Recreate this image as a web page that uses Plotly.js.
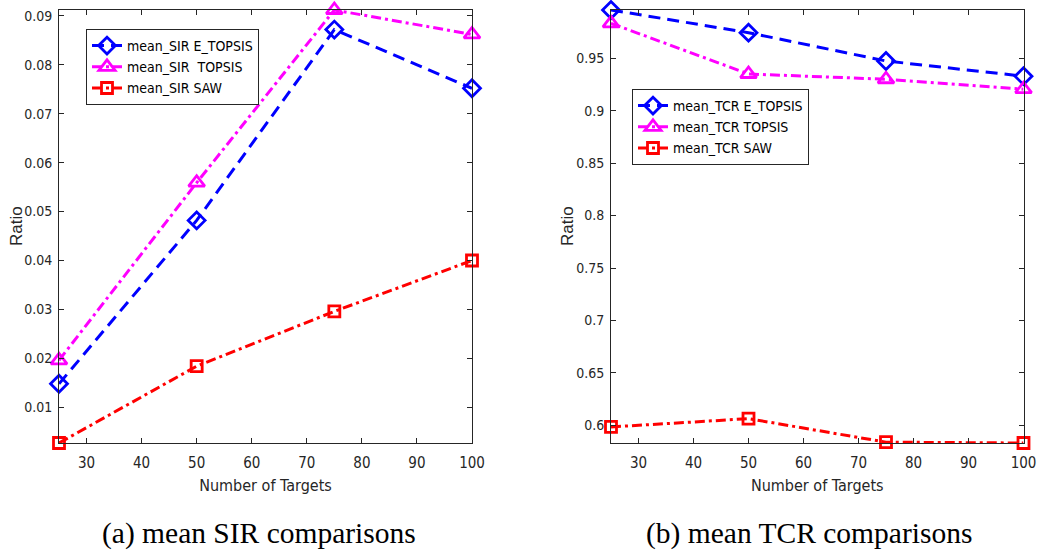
<!DOCTYPE html>
<html>
<head>
<meta charset="utf-8">
<script src="https://cdn.plot.ly/plotly-3.0.1.min.js"></script>
<style>html,body{margin:0;padding:0;background:#fff;}#chart{width:1039px;height:551px;}</style>
</head>
<body>
<div id="chart"></div>
<script>
// ---- data ----
const targets = [25, 50, 75, 100];

const sirETopsis = [0.0148, 0.0482, 0.0872, 0.0752];
const sirTopsis  = [0.0196, 0.0559, 0.0912, 0.0862];
const sirSaw     = [0.0027, 0.0184, 0.0296, 0.0400];

const tcrETopsis = [0.996, 0.9744, 0.9474, 0.9329];
const tcrTopsis  = [0.9833, 0.935, 0.930, 0.9205];
const tcrSaw     = [0.5985, 0.6064, 0.584, 0.5832];

const sirNames = ['mean_SIR E_TOPSIS', 'mean_SIR  TOPSIS', 'mean_SIR SAW'];
const tcrNames = ['mean_TCR E_TOPSIS', 'mean_TCR TOPSIS', 'mean_TCR SAW'];

const xTicks = [30, 40, 50, 60, 70, 80, 90, 100];
const sirTicks = [0.01, 0.02, 0.03, 0.04, 0.05, 0.06, 0.07, 0.08, 0.09];
const sirTickText = ['0.01','0.02','0.03','0.04','0.05','0.06','0.07','0.08','0.09'];
const tcrTicks = [0.6, 0.65, 0.7, 0.75, 0.8, 0.85, 0.9, 0.95];
const tcrTickText = ['0.6','0.65','0.7','0.75','0.8','0.85','0.9','0.95'];

const captions = ['(a) mean SIR comparisons', '(b) mean TCR comparisons'];
const xTitle = 'Number of Targets';
const yTitle = 'Ratio';

// ---- styles ----
const NARROW = '"DejaVu Sans Condensed", "Liberation Sans Narrow", "Liberation Sans", Arial, sans-serif';
const styles = [
  {color: '#0000ff', dash: '12px,7px', symbol: 'diamond-open', size: 13},
  {color: '#ff00ff', dash: '10px,4px,3px,4px', symbol: 'triangle-up-open', size: 14},
  {color: '#ff0000', dash: '10px,4px,3px,4px', symbol: 'square-open', size: 11}
];

function mk(y, name, st, xa, ya, leg) {
  return {
    x: targets, y: y, name: name, type: 'scatter', mode: 'lines+markers',
    xaxis: xa, yaxis: ya, legend: leg,
    line: {color: st.color, width: 3, dash: st.dash},
    marker: {symbol: st.symbol, size: st.size, color: st.color, line: {color: st.color, width: 2.8}},
    cliponaxis: false
  };
}

const data = [
  mk(sirETopsis, sirNames[0], styles[0], 'x', 'y', 'legend'),
  mk(sirTopsis,  sirNames[1], styles[1], 'x', 'y', 'legend'),
  mk(sirSaw,     sirNames[2], styles[2], 'x', 'y', 'legend'),
  mk(tcrETopsis, tcrNames[0], styles[0], 'x2', 'y2', 'legend2'),
  mk(tcrTopsis,  tcrNames[1], styles[1], 'x2', 'y2', 'legend2'),
  mk(tcrSaw,     tcrNames[2], styles[2], 'x2', 'y2', 'legend2')
];

const W = 1039, H = 551;
const yDom = [1 - 443 / H, 1 - 10 / H];

function xaxis(dom, anchor) {
  return {
    domain: dom, anchor: anchor, range: [25, 100],
    tickvals: xTicks, ticktext: xTicks.map(String),
    ticks: 'inside', ticklen: 5, tickwidth: 1, tickcolor: '#262626',
    showline: true, linecolor: '#262626', linewidth: 1, mirror: 'ticks',
    showgrid: false, zeroline: false, automargin: false,
    tickfont: {family: NARROW, size: 15, color: '#262626'},
    ticklabelstandoff: 6,
    title: {text: xTitle, font: {family: NARROW, size: 16, color: '#262626'}, standoff: 8}
  };
}
function yaxis(dom, anchor, range, tv, tt) {
  return {
    domain: dom, anchor: anchor, range: range,
    tickvals: tv, ticktext: tt,
    ticks: 'inside', ticklen: 5, tickwidth: 1, tickcolor: '#262626',
    showline: true, linecolor: '#262626', linewidth: 1, mirror: 'ticks',
    showgrid: false, zeroline: false, automargin: false,
    tickfont: {family: NARROW, size: 14, color: '#262626'},
    ticklabelstandoff: 3
  };
}

const legendBase = {
  xanchor: 'left', yanchor: 'top', bgcolor: '#ffffff',
  bordercolor: '#262626', borderwidth: 1,
  font: {family: NARROW, size: 14, color: '#000000'},
  tracegroupgap: 0, itemwidth: 30
};

const capFont = {family: '"Liberation Serif", "Times New Roman", serif', size: 29.5, color: '#000000'};
const ratioFont = {family: '"Liberation Sans", Arial, sans-serif', size: 17, color: '#262626'};

const layout = {
  width: W, height: H,
  margin: {l: 0, r: 0, t: 0, b: 0},
  paper_bgcolor: '#ffffff', plot_bgcolor: '#ffffff',
  showlegend: true,
  xaxis: xaxis([59 / W, 472 / W], 'y'),
  yaxis: yaxis(yDom, 'x', [0.0027, 0.0912], sirTicks, sirTickText),
  xaxis2: xaxis([611 / W, 1023.5 / W], 'y2'),
  yaxis2: yaxis(yDom, 'x2', [0.5832, 0.996], tcrTicks, tcrTickText),
  legend: Object.assign({x: 86 / W, y: 1 - 29 / H}, legendBase),
  legend2: Object.assign({x: 632 / W, y: 1 - 89 / H}, legendBase),
  annotations: [
    {text: yTitle, xref: 'paper', yref: 'paper', x: 17 / W, y: 1 - 226 / H, textangle: -90,
     xanchor: 'center', yanchor: 'middle', showarrow: false, font: ratioFont},
    {text: yTitle, xref: 'paper', yref: 'paper', x: 568 / W, y: 1 - 226 / H, textangle: -90,
     xanchor: 'center', yanchor: 'middle', showarrow: false, font: ratioFont},
    {text: captions[0], xref: 'paper', yref: 'paper', x: 258.5 / W, y: 1 - 533 / H,
     xanchor: 'center', yanchor: 'middle', showarrow: false, font: capFont},
    {text: captions[1], xref: 'paper', yref: 'paper', x: 809 / W, y: 1 - 533 / H,
     xanchor: 'center', yanchor: 'middle', showarrow: false, font: capFont}
  ]
};

Plotly.newPlot('chart', data, layout, {displayModeBar: false, staticPlot: true});
</script>
</body>
</html>
